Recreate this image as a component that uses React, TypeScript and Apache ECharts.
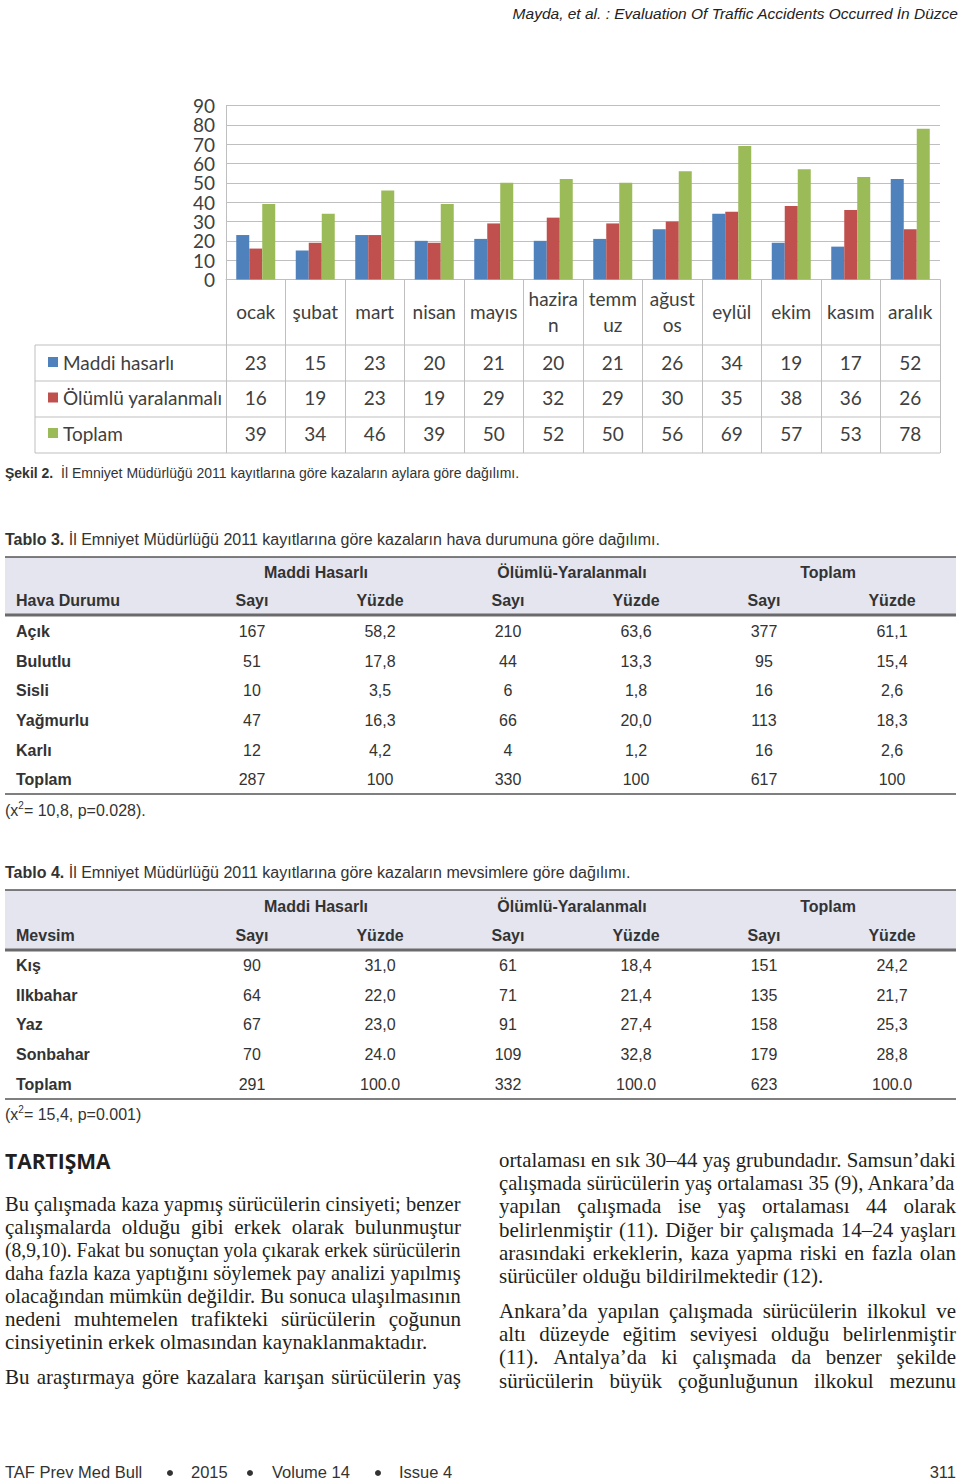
import React, { useEffect, useRef } from "react";
import * as echarts from "echarts";

// ---------- Chart data (Şekil 2) ----------
const monthLabels = ["ocak", "şubat", "mart", "nisan", "mayıs", "hazira\nn", "temm\nuz", "ağust\nos", "eylül", "ekim", "kasım", "aralık"];
const seriesNames = ["Maddi hasarlı", "Ölümlü yaralanmalı", "Toplam"];
const maddiHasarli = [23, 15, 23, 20, 21, 20, 21, 26, 34, 19, 17, 52];
const olumluYaralanmali = [16, 19, 23, 19, 29, 32, 29, 30, 35, 38, 36, 26];
const toplamAylik = [39, 34, 46, 39, 50, 52, 50, 56, 69, 57, 53, 78];
const yTickValues = [0, 10, 20, 30, 40, 50, 60, 70, 80, 90];
const seriesColors = ["#4F81BD", "#C0504D", "#9BBB59"];

// ---------- Tablo 3 ----------
const groupHeaders = ["Maddi Hasarlı", "Ölümlü-Yaralanmalı", "Toplam"];
const subHeaders = ["Sayı", "Yüzde", "Sayı", "Yüzde", "Sayı", "Yüzde"];
const weatherLabels = ["Açık", "Bulutlu", "Sisli", "Yağmurlu", "Karlı", "Toplam"];
const weatherMaddiSayi = ["167", "51", "10", "47", "12", "287"];
const weatherMaddiYuzde = ["58,2", "17,8", "3,5", "16,3", "4,2", "100"];
const weatherOlumluSayi = ["210", "44", "6", "66", "4", "330"];
const weatherOlumluYuzde = ["63,6", "13,3", "1,8", "20,0", "1,2", "100"];
const weatherToplamSayi = ["377", "95", "16", "113", "16", "617"];
const weatherToplamYuzde = ["61,1", "15,4", "2,6", "18,3", "2,6", "100"];

// ---------- Tablo 4 ----------
const seasonLabels = ["Kış", "Ilkbahar", "Yaz", "Sonbahar", "Toplam"];
const seasonMaddiSayi = ["90", "64", "67", "70", "291"];
const seasonMaddiYuzde = ["31,0", "22,0", "23,0", "24.0", "100.0"];
const seasonOlumluSayi = ["61", "71", "91", "109", "332"];
const seasonOlumluYuzde = ["18,4", "21,4", "27,4", "32,8", "100.0"];
const seasonToplamSayi = ["151", "135", "158", "179", "623"];
const seasonToplamYuzde = ["24,2", "21,7", "25,3", "28,8", "100.0"];

// ---------- Body text ----------
const leftColumn = [
  "Bu çalışmada kaza yapmış sürücülerin cinsiyeti; benzer",
  "çalışmalarda olduğu gibi erkek olarak bulunmuştur",
  "(8,9,10). Fakat bu sonuçtan yola çıkarak erkek sürücülerin",
  "daha fazla kaza yaptığını söylemek pay analizi yapılmış",
  "olacağından mümkün değildir. Bu sonuca ulaşılmasının",
  "nedeni muhtemelen trafikteki sürücülerin çoğunun",
  "cinsiyetinin erkek olmasından kaynaklanmaktadır.",
  "Bu araştırmaya göre kazalara karışan sürücülerin yaş",
];
const leftJustify = [true, true, true, true, true, true, false, true];
const leftY = [1204, 1227, 1250, 1273, 1296, 1319, 1342, 1377];

const rightColumn = [
  "ortalaması en sık 30–44 yaş grubundadır. Samsun’daki",
  "çalışmada sürücülerin yaş ortalaması 35 (9), Ankara’da",
  "yapılan çalışmada ise yaş ortalaması 44 olarak",
  "belirlenmiştir (11). Diğer bir çalışmada 14–24 yaşları",
  "arasındaki erkeklerin, kaza yapma riski en fazla olan",
  "sürücüler olduğu bildirilmektedir (12).",
  "Ankara’da yapılan çalışmada sürücülerin ilkokul ve",
  "altı düzeyde eğitim seviyesi olduğu belirlenmiştir",
  "(11). Antalya’da ki çalışmada da benzer şekilde",
  "sürücülerin büyük çoğunluğunun ilkokul mezunu",
];
const rightJustify = [true, true, true, true, true, false, true, true, true, true];
const rightY = [1160, 1183, 1206, 1230, 1253, 1276, 1311, 1334, 1357, 1381];

// ---------- helpers ----------
let measureCtx: CanvasRenderingContext2D | null = null;
function measure(text: string, size: number, family: string, weight = "normal"): number {
  if (!measureCtx) measureCtx = document.createElement("canvas").getContext("2d");
  measureCtx!.font = `${weight} ${size}px "${family}"`;
  return measureCtx!.measureText(text).width;
}

type TOpt = { size?: number; family?: string; weight?: string; fstyle?: string; align?: string; fill?: string; rich?: any; scaleX?: number; lineHeight?: number };
function T(text: string, x: number, y: number, o: TOpt = {}) {
  const align = o.align || "left";
  const el: any = {
    type: "text",
    x,
    y,
    silent: true,
    style: {
      text,
      fill: o.fill || "#222",
      fontSize: o.size || 16,
      fontFamily: o.family || "Liberation Sans",
      fontWeight: o.weight || "normal",
      fontStyle: o.fstyle || "normal",
      align,
      textAlign: align,
      verticalAlign: "middle",
      textVerticalAlign: "middle",
      rich: o.rich,
    },
  };
  if (o.lineHeight) el.style.lineHeight = o.lineHeight;
  if (o.scaleX) el.scaleX = o.scaleX;
  return el;
}
function L(x1: number, y1: number, x2: number, y2: number, color: string, w: number) {
  return { type: "line", silent: true, shape: { x1, y1, x2, y2 }, style: { stroke: color, lineWidth: w } };
}

const BODY_FONT = "Liberation Serif";
const BODY_SIZE = 21;
const BODY_FILL = "#231f20";
function paragraphLines(lines: string[], just: boolean[], ys: number[], x0: number, width: number) {
  const out: any[] = [];
  lines.forEach((line, i) => {
    const natural = measure(line, BODY_SIZE, BODY_FONT);
    if (!just[i]) {
      out.push(T(line, x0, ys[i], { size: BODY_SIZE, family: BODY_FONT, fill: BODY_FILL }));
      return;
    }
    if (natural >= width) {
      out.push(T(line, x0, ys[i], { size: BODY_SIZE, family: BODY_FONT, fill: BODY_FILL, scaleX: width / natural }));
      return;
    }
    const words = line.split(" ");
    const widths = words.map((w) => measure(w, BODY_SIZE, BODY_FONT));
    const sum = widths.reduce((a, b) => a + b, 0);
    const gap = (width - sum) / (words.length - 1);
    let x = x0;
    words.forEach((w, k) => {
      out.push(T(w, x, ys[i], { size: BODY_SIZE, family: BODY_FONT, fill: BODY_FILL }));
      x += widths[k] + gap;
    });
  });
  return out;
}

const colX = [252, 380, 508, 636, 764, 892];
const groupX = [316, 572, 828];
function buildTable(
  top: number, hdrBottom: number, bottom: number, h1: number, h2: number, rowYs: number[],
  firstTitle: string, labels: string[], cols: string[][]
) {
  const out: any[] = [];
  out.push({ type: "rect", silent: true, shape: { x: 5, y: top, width: 951, height: hdrBottom - top }, style: { fill: "#E5E5EF" } });
  out.push(L(5, top, 956, top, "#555", 1.5));
  out.push(L(5, hdrBottom, 956, hdrBottom, "#6a6a6a", 3));
  out.push(L(5, bottom, 956, bottom, "#555", 1.5));
  groupHeaders.forEach((g, i) => out.push(T(g, groupX[i], h1, { weight: "bold", align: "center", fill: "#333" })));
  out.push(T(firstTitle, 16, h2, { weight: "bold", fill: "#333" }));
  subHeaders.forEach((s, i) => out.push(T(s, colX[i], h2, { weight: "bold", align: "center", fill: "#333" })));
  labels.forEach((lab, r) => {
    out.push(T(lab, 16, rowYs[r], { weight: "bold", fill: "#333" }));
    cols.forEach((c, k) => out.push(T(c[r], colX[k], rowYs[r], { align: "center", fill: "#333" })));
  });
  return out;
}

function footnote(prefix: string, rest: string, y: number) {
  const w = measure(prefix, 16, "Liberation Sans");
  const w2 = measure("2", 10, "Liberation Sans");
  return [
    T(prefix, 5, y, { fill: "#333" }),
    T("2", 5 + w, y - 5, { size: 10, fill: "#333" }),
    T(rest, 5 + w + w2, y, { fill: "#333" }),
  ];
}

function staticGraphics() {
  const g: any[] = [];
  // running header
  g.push(T("Mayda, et al. : Evaluation Of Traffic Accidents Occurred İn Düzce", 958, 13, { size: 15.5, fstyle: "italic", align: "right", fill: "#222" }));
  // chart data-table grid
  [345, 381, 417, 453].forEach((y) => g.push(L(35, y, 940, y, "#bfbfbf", 1)));
  g.push(L(35, 345, 35, 453, "#bfbfbf", 1));
  // figure caption
  g.push(T("{b|Şekil 2.}  İl Emniyet Müdürlüğü 2011 kayıtlarına göre kazaların aylara göre dağılımı.", 5, 473, {
    size: 14, fill: "#333", rich: { b: { fontWeight: "bold", fontSize: 14, fontFamily: "Liberation Sans", fill: "#333" } },
  }));
  // Tablo 3
  g.push(T("{b|Tablo 3.} İl Emniyet Müdürlüğü 2011 kayıtlarına göre kazaların hava durumuna göre dağılımı.", 5, 539, {
    size: 16, fill: "#333", rich: { b: { fontWeight: "bold", fontSize: 16, fontFamily: "Liberation Sans", fill: "#333" } },
  }));
  g.push(...buildTable(557, 615, 794, 572, 600, [631, 661, 690, 720, 750, 779], "Hava Durumu", weatherLabels,
    [weatherMaddiSayi, weatherMaddiYuzde, weatherOlumluSayi, weatherOlumluYuzde, weatherToplamSayi, weatherToplamYuzde]));
  g.push(...footnote("(x", "= 10,8, p=0.028).", 810));
  // Tablo 4
  g.push(T("{b|Tablo 4.} İl Emniyet Müdürlüğü 2011 kayıtlarına göre kazaların mevsimlere göre dağılımı.", 5, 872, {
    size: 16, fill: "#333", rich: { b: { fontWeight: "bold", fontSize: 16, fontFamily: "Liberation Sans", fill: "#333" } },
  }));
  g.push(...buildTable(890, 950, 1099, 906, 935, [965, 995, 1024, 1054, 1084], "Mevsim", seasonLabels,
    [seasonMaddiSayi, seasonMaddiYuzde, seasonOlumluSayi, seasonOlumluYuzde, seasonToplamSayi, seasonToplamYuzde]));
  g.push(...footnote("(x", "= 15,4, p=0.001)", 1114));
  // Discussion
  g.push(T("TARTIŞMA", 5, 1161, { size: 21, family: "Open Sans", weight: "bold", fill: "#231f20" }));
  g.push(...paragraphLines(leftColumn, leftJustify, leftY, 5, 456));
  g.push(...paragraphLines(rightColumn, rightJustify, rightY, 499, 457));
  // footer
  g.push(T("TAF Prev Med Bull", 5, 1472, { size: 16.5, fill: "#333" }));
  g.push(T("2015", 191, 1472, { size: 16.5, fill: "#333" }));
  g.push(T("Volume 14", 272, 1472, { size: 16.5, fill: "#333" }));
  g.push(T("Issue 4", 399, 1472, { size: 16.5, fill: "#333" }));
  [170, 250, 378].forEach((cx) => g.push({ type: "circle", silent: true, shape: { cx, cy: 1473, r: 3 }, style: { fill: "#333" } }));
  g.push(T("311", 956, 1472, { size: 16.5, align: "right", fill: "#333" }));
  return g;
}

export default function App() {
  const ref = useRef<HTMLDivElement>(null);
  useEffect(() => {
    const el = ref.current!;
    const chart = echarts.init(el, null, { renderer: "svg" });
    const labelFont = "Lato";
    chart.setOption({
      animation: false,
      backgroundColor: "#ffffff",
      textStyle: { fontFamily: labelFont },
      grid: { left: 226, top: 105.5, width: 714, height: 174, containLabel: false },
      legend: {
        data: seriesNames,
        orient: "vertical",
        left: 43,
        top: 347,
        itemWidth: 10,
        itemHeight: 10,
        itemGap: 15.5,
        icon: "rect",
        selectedMode: false,
        textStyle: { fontSize: 19, lineHeight: 20, color: "#404040", fontFamily: labelFont },
      },
      xAxis: {
        type: "category",
        data: monthLabels,
        boundaryGap: true,
        axisLine: { show: true, lineStyle: { color: "#bfbfbf", width: 1 } },
        axisTick: { show: true, interval: 0, length: 173.5, lineStyle: { color: "#bfbfbf", width: 1 } },
        axisLabel: { interval: 0, margin: 32, verticalAlign: "middle", lineHeight: 26, fontSize: 19, color: "#404040", fontFamily: labelFont },
        splitLine: { show: false },
      },
      yAxis: {
        type: "value",
        min: 0,
        max: 90,
        interval: 10,
        axisLine: { show: true, lineStyle: { color: "#bfbfbf", width: 1 } },
        axisTick: { show: false },
        axisLabel: { show: false },
        splitLine: { show: true, lineStyle: { color: "#bfbfbf", width: 1 } },
      },
      series: [maddiHasarli, olumluYaralanmali, toplamAylik].map((d, i) => ({
        type: "bar",
        name: seriesNames[i],
        data: d,
        barWidth: 13,
        barGap: "0%",
        itemStyle: { color: seriesColors[i] },
      })),
    });

    // value-axis tick labels, placed through the value axis scale
    const yLabels = yTickValues.map((v) => {
      const py = chart.convertToPixel({ yAxisIndex: 0 }, v) as number;
      return T(String(v), 215, py, { size: 19, lineHeight: 18, family: labelFont, align: "right", fill: "#404040" });
    });

    // values under each month, positioned through the category axis
    const tableRows = [maddiHasarli, olumluYaralanmali, toplamAylik];
    const rowY = [362, 397.5, 433];
    const valueTexts: any[] = [];
    monthLabels.forEach((_, i) => {
      const px = chart.convertToPixel({ xAxisIndex: 0 }, i) as number;
      tableRows.forEach((row, r) => {
        valueTexts.push(T(String(row[i]), px, rowY[r], { size: 19, family: labelFont, align: "center", fill: "#404040" }));
      });
    });

    chart.setOption({ graphic: { elements: [...staticGraphics(), ...yLabels, ...valueTexts] } });
    return () => chart.dispose();
  }, []);
  return <div ref={ref} style={{ position: "absolute", left: 0, top: 0, width: 960, height: 1480, background: "#fff" }} />;
}
